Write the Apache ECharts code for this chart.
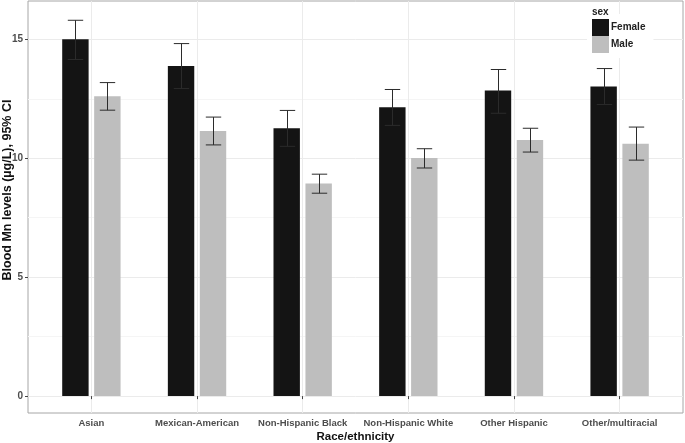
<!DOCTYPE html>
<html><head><meta charset="utf-8">
<script src="https://cdn.jsdelivr.net/npm/echarts@6/dist/echarts.min.js"></script>
<style>html,body{margin:0;padding:0;background:#fff}#c{width:685px;height:443px}</style>
</head><body><div id="c"></div>
<script>
const categories = ['Asian','Mexican-American','Non-Hispanic Black','Non-Hispanic White','Other Hispanic','Other/multiracial'];
const femaleMean  = [15.00, 13.88, 11.26, 12.14, 12.85, 13.02];
const femaleLower = [14.15, 12.93, 10.50, 11.38, 11.89, 12.26];
const femaleUpper = [15.80, 14.82, 12.01, 12.89, 13.73, 13.77];
const maleMean    = [12.61, 11.14, 8.94, 10.01, 10.77, 10.61];
const maleLower   = [12.02, 10.56, 8.53, 9.59, 10.26, 9.92];
const maleUpper   = [13.18, 11.73, 9.33, 10.40, 11.26, 11.31];
const yTicks = [0, 5, 10, 15];
const yMinorTicks = [2.5, 7.5, 12.5];
const xPositions = categories.map((c, i) => i + 1);

const FONT = 'Liberation Sans, Arial, sans-serif';
const chart = echarts.init(document.getElementById('c'), null, {renderer: 'canvas'});

function errRenderer(sign) {
  return function (params, api) {
    const x = api.value(0), lo = api.value(1), hi = api.value(2);
    const unit = api.size([1, 0])[0];
    const dx = sign * 0.152 * unit;
    const pLo = api.coord([x, lo]);
    const pHi = api.coord([x, hi]);
    const cx = Math.round(pLo[0] + dx) + 0.5;
    const cap = 7.7;
    const st = {stroke: '#2b2b2b', lineWidth: 1};
    return {type: 'group', children: [
      {type: 'line', shape: {x1: cx, y1: pHi[1], x2: cx, y2: pLo[1]}, style: st},
      {type: 'line', shape: {x1: cx - cap, y1: pHi[1], x2: cx + cap, y2: pHi[1]}, style: st},
      {type: 'line', shape: {x1: cx - cap, y1: pLo[1], x2: cx + cap, y2: pLo[1]}, style: st}
    ]};
  };
}

const option = {
  animation: false,
  backgroundColor: '#fff',
  title: {
    text: 'sex', left: 588, top: 5, padding: [2, 4, 0, 4],
    backgroundColor: '#fff',
    textStyle: {fontFamily: FONT, fontSize: 10, fontWeight: 'bold', color: '#222'}
  },
  legend: {
    data: ['Female', 'Male'], orient: 'vertical', left: 587, top: 14,
    padding: [5, 8, 5, 5], itemGap: 0, itemWidth: 17, itemHeight: 17,
    icon: 'rect', backgroundColor: '#fff',
    textStyle: {fontFamily: FONT, fontSize: 10, fontWeight: 'bold', color: '#222', padding: [0, 0, 0, -3]}
  },
  grid: {
    left: 28, right: 2, top: 1, bottom: 30,
    outerBoundsMode: 'none', containLabel: false,
    show: true, borderColor: '#a6a6a6', borderWidth: 1, backgroundColor: '#fff'
  },
  xAxis: {
    type: 'value', min: 0.4, max: 6.6,
    name: 'Race/ethnicity', nameLocation: 'middle', nameGap: 18, nameMoveOverlap: false,
    nameTextStyle: {fontFamily: FONT, fontSize: 11.5, fontWeight: 'bold', color: '#111'},
    axisLine: {show: false},
    axisTick: {show: true, length: 3, customValues: xPositions, lineStyle: {color: '#444'}},
    axisLabel: {
      customValues: xPositions, margin: 5,
      formatter: v => categories[Math.round(v) - 1],
      fontFamily: FONT, fontSize: 9.5, fontWeight: 'bold', color: '#4d4d4d'
    },
    splitLine: {show: true, lineStyle: {color: '#ebebeb', width: 1}}
  },
  yAxis: [{
    type: 'value', min: -0.71, max: 16.61,
    name: 'Blood Mn levels (µg/L), 95% CI', nameLocation: 'middle', nameGap: 13.5, nameMoveOverlap: false,
    nameTextStyle: {fontFamily: FONT, fontSize: 12.5, fontWeight: 'bold', color: '#111', padding: [0, 0, 0, 34]},
    axisLine: {show: false},
    axisTick: {show: true, length: 3, customValues: yTicks, lineStyle: {color: '#444'}},
    axisLabel: {
      customValues: yTicks, margin: 5,
      fontFamily: FONT, fontSize: 10, fontWeight: 'bold', color: '#4d4d4d'
    },
    splitLine: {show: true, lineStyle: {color: '#ebebeb', width: 1}}
  }, {
    type: 'value', min: -0.71, max: 16.61, position: 'left',
    axisLine: {show: false}, axisLabel: {show: false},
    axisTick: {show: false, customValues: yMinorTicks},
    splitLine: {show: true, lineStyle: {color: '#f5f5f5', width: 1}}
  }],
  series: [
    {name: 'Female', type: 'bar', barWidth: '25%', barGap: '21%',
     itemStyle: {color: '#141414'}, z: 2,
     data: femaleMean.map((v, i) => [xPositions[i], v])},
    {name: 'Male', type: 'bar', barWidth: '25%', barGap: '21%',
     itemStyle: {color: '#bebebe'}, z: 2,
     data: maleMean.map((v, i) => [xPositions[i], v])},
    {name: 'FemaleCI', type: 'custom', z: 3, renderItem: errRenderer(-1),
     encode: {x: 0, y: [1, 2]},
     data: femaleLower.map((lo, i) => [xPositions[i], lo, femaleUpper[i]])},
    {name: 'MaleCI', type: 'custom', z: 3, renderItem: errRenderer(1),
     encode: {x: 0, y: [1, 2]},
     data: maleLower.map((lo, i) => [xPositions[i], lo, maleUpper[i]])}
  ]
};
chart.setOption(option);
</script></body></html>
